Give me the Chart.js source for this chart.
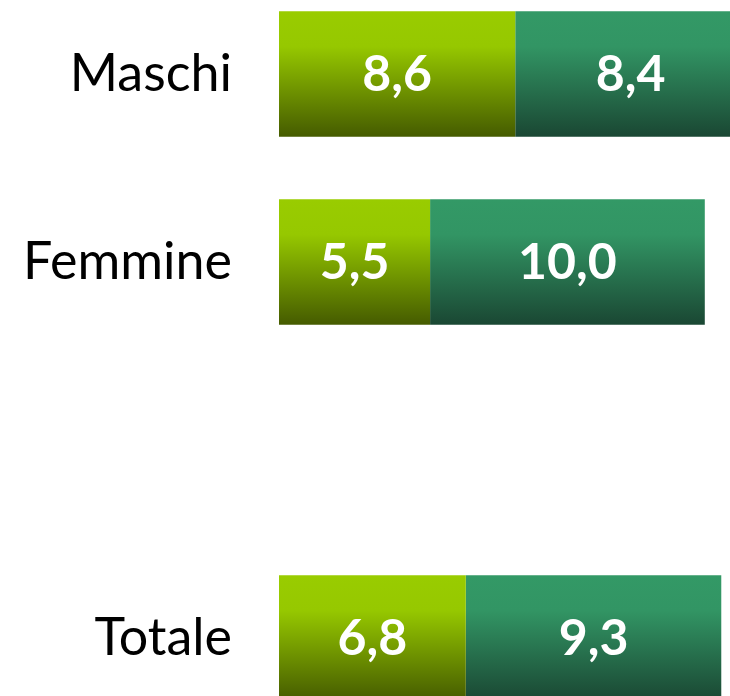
<!DOCTYPE html>
<html>
<head>
<meta charset="utf-8">
<script src="https://cdn.jsdelivr.net/npm/chart.js@4/dist/chart.umd.min.js"></script>
<style>
  html, body { margin: 0; padding: 0; width: 730px; height: 696px; overflow: hidden; background: #ffffff; }
  #wrap { position: absolute; left: 0; top: -20px; width: 746px; height: 752px; }
</style>
</head>
<body>
<div id="wrap"><canvas id="c" width="746" height="752"></canvas></div>
<script>
const categories = ['Maschi', 'Femmine', '', 'Totale'];
const seriesA = [8.6, 5.5, null, 6.8];
const seriesB = [8.4, 10.0, null, 9.3];
const xMax = 17;

const BAR_HALF = 62.75;

function makeGradient(context, stops) {
  const chart = context.chart;
  const yScale = chart.scales && chart.scales.y;
  if (!yScale || !chart.chartArea) return stops[0][1];
  const yc = yScale.getPixelForValue(context.dataIndex);
  const g = chart.ctx.createLinearGradient(0, yc - BAR_HALF, 0, yc + BAR_HALF);
  stops.forEach(s => g.addColorStop(s[0], s[1]));
  return g;
}

const stopsA = [[0, '#99cc00'], [0.28, '#96c800'], [1, '#455b00']];
const stopsB = [[0, '#339966'], [0.28, '#329564'], [1, '#1a4733']];

const valueLabels = {
  id: 'valueLabels',
  afterDatasetsDraw(chart) {
    const ctx = chart.ctx;
    ctx.save();
    ctx.fillStyle = '#ffffff';
    ctx.font = 'bold 50px Lato';
    ctx.textAlign = 'center';
    ctx.textBaseline = 'middle';
    chart.data.datasets.forEach((ds, di) => {
      const meta = chart.getDatasetMeta(di);
      meta.data.forEach((el, i) => {
        const v = ds.data[i];
        if (v === null || v === undefined) return;
        const cx = (el.x + el.base) / 2;
        ctx.fillText(v.toFixed(1).replace('.', ','), cx, el.y + 1);
      });
    });
    ctx.restore();
  }
};

new Chart(document.getElementById('c'), {
  type: 'bar',
  data: {
    labels: categories,
    datasets: [
      { data: seriesA, backgroundColor: ctx => makeGradient(ctx, stopsA), borderWidth: 0 },
      { data: seriesB, backgroundColor: ctx => makeGradient(ctx, stopsB), borderWidth: 0 }
    ]
  },
  options: {
    indexAxis: 'y',
    responsive: false,
    animation: false,
    devicePixelRatio: 1,
    layout: { padding: 0 },
    barPercentage: 1,
    categoryPercentage: 125.5 / 188,
    plugins: { legend: { display: false }, tooltip: { enabled: false } },
    scales: {
      x: {
        stacked: true, min: 0, max: xMax, display: false,
        grid: { display: false }
      },
      y: {
        stacked: true,
        grid: { display: false, drawTicks: false },
        border: { display: false },
        ticks: { color: '#000000', font: { family: 'Lato', size: 52 }, padding: 47 },
        afterFit(scale) {
          scale.width = 279;
          scale.paddingTop = 0;
          scale.paddingBottom = 0;
        }
      }
    }
  },
  plugins: [valueLabels]
});
</script>
</body>
</html>
